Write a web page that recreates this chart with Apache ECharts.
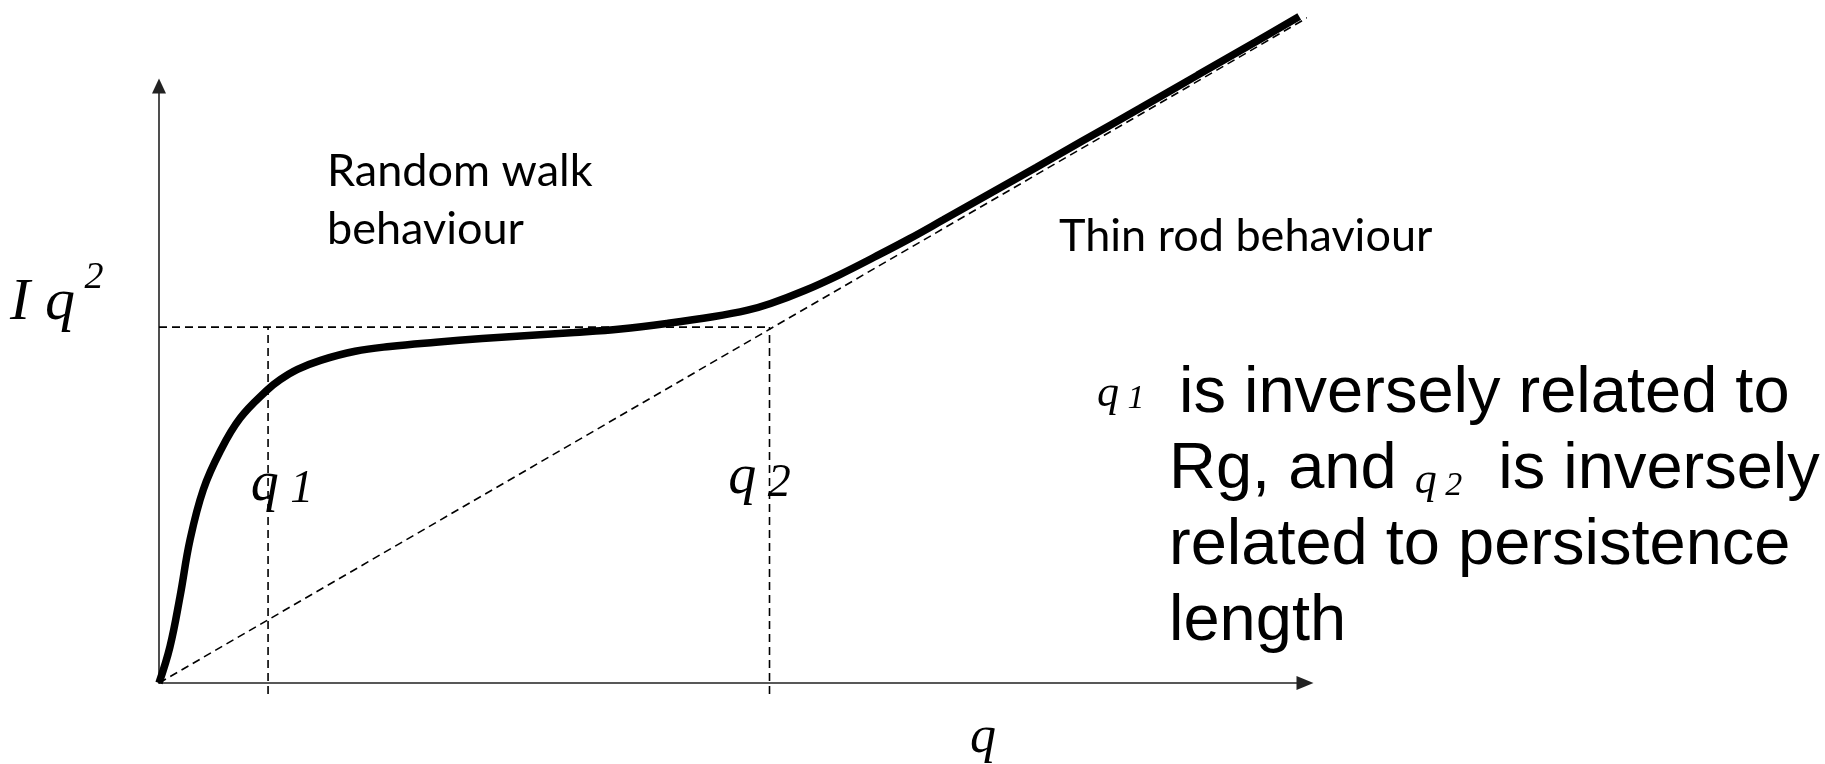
<!DOCTYPE html>
<html>
<head>
<meta charset="utf-8">
<script src="https://cdn.jsdelivr.net/npm/echarts@6/dist/echarts.min.js"></script>
<style>
  html, body { margin: 0; padding: 0; background: #fff; }
  #chart { width: 1825px; height: 764px; }
</style>
</head>
<body>
<div id="chart"></div>
<script>
// Kratky-type sketch, values (arbitrary units)
var curveQ = [0, 0.95, 1.82, 2.69, 3.84, 5.29, 7.02, 9.33, 10.5, 12, 14, 17, 20, 24, 28, 32, 36, 40, 44, 48, 51, 53, 56, 59, 62, 65, 68, 72, 76, 80, 85, 90, 95, 98.8];
var curveIq2 = [0, 6.0, 14.3, 23.7, 32.0, 38.3, 43.8, 48.4, 50.2, 51.9, 53.4, 54.9, 55.7, 56.4, 57.0, 57.5, 58.0, 58.6, 59.5, 60.6, 61.7, 62.8, 65.0, 67.6, 70.5, 73.5, 76.7, 81.0, 85.3, 89.7, 95.1, 100.6, 106.1, 110.3];

// thin rod asymptote (through the origin)
var rodQ = [0, 100.4];
var rodIq2 = [0, 111.1];

var q1 = 9.45;
var q2 = 52.9;
var plateau = 58.9;
var markBottom = -1.8;
var labelLevel = 32.8;

var xMax = 99.3;
var yMax = 98.8;

function zip(a, b) {
    var res = [];
    for (var i = 0; i < a.length; i++) {
        res.push([a[i], b[i]]);
    }
    return res;
}

var serif = '"Liberation Serif", "DejaVu Serif", serif';
var calibriLike = 'Lato, "Open Sans", sans-serif';
var arialLike = '"Liberation Sans", Arial, sans-serif';

function dashLine(data) {
    return {
        type: 'line',
        data: data,
        symbol: 'none',
        clip: false,
        silent: true,
        lineStyle: {color: '#000', width: 1.6, type: [8, 5], opacity: 1},
        z: 2
    };
}

var qRich = {
    q: {fontFamily: serif, fontStyle: 'italic', fontSize: 56, color: '#000', verticalAlign: 'bottom'},
    n: {fontFamily: serif, fontStyle: 'italic', fontSize: 46, color: '#000', verticalAlign: 'bottom'}
};

var smallRich = {
    q: {fontFamily: serif, fontStyle: 'italic', fontSize: 44, lineHeight: 50, color: '#000', verticalAlign: 'bottom'},
    n: {fontFamily: serif, fontStyle: 'italic', fontSize: 34, lineHeight: 40, color: '#000', verticalAlign: 'bottom'},
    t: {fontFamily: arialLike, fontSize: 65, lineHeight: 65, color: '#000', verticalAlign: 'bottom'}
};

var axisCommon = {
    type: 'value',
    min: 0,
    axisTick: {show: false},
    axisLabel: {show: false},
    splitLine: {show: false}
};

var chart = echarts.init(document.getElementById('chart'), null, {renderer: 'canvas'});

chart.setOption({
    backgroundColor: '#fff',
    animation: false,
    grid: {left: 159, right: 520, top: 86, bottom: 81},
    xAxis: Object.assign({}, axisCommon, {
        max: xMax,
        axisLine: {
            onZero: false,
            symbol: ['none', 'triangle'],
            symbolSize: [14, 17],
            lineStyle: {color: '#222', width: 1.6}
        }
    }),
    yAxis: Object.assign({}, axisCommon, {
        max: yMax,
        axisLine: {
            onZero: false,
            symbol: ['none', 'triangle'],
            symbolSize: [14, 15],
            lineStyle: {color: '#222', width: 1.6}
        }
    }),
    series: [
        dashLine(zip(rodQ, rodIq2)),
        dashLine([[0, plateau], [q2, plateau]]),
        dashLine([[q1, markBottom], [q1, plateau]]),
        dashLine([[q2, markBottom], [q2, plateau]]),
        {
            type: 'line',
            data: zip(curveQ, curveIq2),
            symbol: 'none',
            smooth: 0.4,
            clip: false,
            silent: true,
            lineStyle: {color: '#000', width: 7.5, opacity: 1},
            z: 3
        },
        {
            type: 'scatter',
            symbolSize: 0,
            silent: true,
            z: 4,
            itemStyle: {opacity: 1},
            label: {show: true, position: 'inside', color: '#000', rich: qRich},
            data: [
                {value: [q1, labelLevel], label: {formatter: '{q|q}{n| 1}', offset: [14, 0]}},
                {value: [q2, labelLevel + 1], label: {formatter: '{q|q}{n| 2}', offset: [-10, 0]}}
            ]
        }
    ],
    graphic: [
        {
            type: 'text', left: 10, top: 259,
            style: {
                text: '{i|I}{q| q}{s| 2}',
                rich: {
                    i: {fontFamily: serif, fontStyle: 'italic', fontSize: 60, lineHeight: 74, color: '#000', verticalAlign: 'bottom'},
                    q: {fontFamily: serif, fontStyle: 'italic', fontSize: 60, lineHeight: 74, color: '#000', verticalAlign: 'bottom'},
                    s: {fontFamily: serif, fontStyle: 'italic', fontSize: 38, lineHeight: 40, color: '#000', verticalAlign: 'top'}
                }
            }
        },
        {
            type: 'text', left: 970, top: 712,
            style: {text: 'q', font: 'italic 52px ' + serif, fill: '#000'}
        },
        {
            type: 'text', left: 327, top: 142,
            style: {text: 'Random walk\nbehaviour', font: '45px ' + calibriLike, lineHeight: 58, fill: '#000'}
        },
        {
            type: 'text', left: 1059, top: 214,
            style: {text: 'Thin rod behaviour', font: '45px ' + calibriLike, fill: '#000'}
        },
        {
            type: 'text', left: 1097, top: 372,
            style: {text: '{q|q}{n| 1}', rich: smallRich}
        },
        {
            type: 'text', left: 1179, top: 362,
            style: {text: 'is inversely related to', font: '65px ' + arialLike, fill: '#000'}
        },
        {
            type: 'text', left: 1169, top: 438,
            style: {text: '{t|Rg, and }{q|q}{n| 2}{t|  is inversely}', rich: smallRich}
        },
        {
            type: 'text', left: 1169, top: 514,
            style: {text: 'related to persistence', font: '65px ' + arialLike, fill: '#000'}
        },
        {
            type: 'text', left: 1169, top: 590,
            style: {text: 'length', font: '65px ' + arialLike, fill: '#000'}
        }
    ]
});
</script>
</body>
</html>
